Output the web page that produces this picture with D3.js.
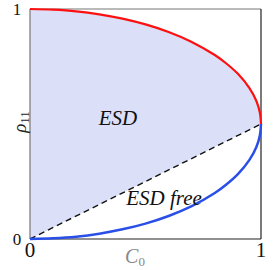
<!DOCTYPE html>
<html>
<head>
<meta charset="utf-8">
<style>
body { margin: 0; background: #fff; }
svg { display: block; }
</style>
<script src="https://d3js.org/d3.v7.min.js"></script>
</head>
<body>
<div id="chart"></div>
<script>
// values
var c0 = [0, 0.1, 0.2, 0.3, 0.4, 0.5, 0.6, 0.7, 0.8, 0.85, 0.9, 0.95, 0.98, 0.995, 1];
var upper = [1, 0.997, 0.99, 0.977, 0.958, 0.933, 0.9, 0.857, 0.8, 0.763, 0.718, 0.656, 0.6, 0.55, 0.5];
var lower = [0, 0.003, 0.01, 0.023, 0.042, 0.067, 0.1, 0.143, 0.2, 0.237, 0.282, 0.344, 0.4, 0.45, 0.5];
var diag = [[0, 0], [1, 0.5]];
var xTicks = [0, 1];
var yTicks = [0, 1];

var W = 273, H = 270;
var svg = d3.select('#chart').append('svg').attr('width', W).attr('height', H)
  .attr('font-family', '"Liberation Serif", "Times New Roman", "DejaVu Serif", serif');

var x = d3.scaleLinear().domain([0, 1]).range([30, 261]);
var y = d3.scaleLinear().domain([0, 1]).range([239, 9]);

var upperPts = c0.map((c, i) => [c, upper[i]]);
var lowerPts = c0.map((c, i) => [c, lower[i]]);

var line = d3.line().x(d => x(d[0])).y(d => y(d[1])).curve(d3.curveCatmullRom);

// shaded ESD region: left edge, red curve, back along the dashed line
svg.append('path').attr('d', line(upperPts) + 'L' + x(diag[0][0]) + ',' + y(diag[0][1]) + 'Z')
  .attr('fill', '#dcdff8').attr('stroke', 'none');

// frame
svg.append('line').attr('x1', x(0)).attr('x2', x(1)).attr('y1', y(1)).attr('y2', y(1)).attr('stroke', '#777').attr('stroke-width', 1.2);
svg.append('line').attr('x1', x(0)).attr('x2', x(0)).attr('y1', y(0)).attr('y2', y(1)).attr('stroke', '#777').attr('stroke-width', 1.2);
svg.append('line').attr('x1', x(0)).attr('x2', x(1)).attr('y1', y(0)).attr('y2', y(0)).attr('stroke', '#222').attr('stroke-width', 1.2);
svg.append('line').attr('x1', x(1)).attr('x2', x(1)).attr('y1', y(0)).attr('y2', y(1)).attr('stroke', '#222').attr('stroke-width', 1.2);

svg.append('path').attr('d', d3.line().x(d => x(d[0])).y(d => y(d[1]))(diag))
  .attr('fill', 'none').attr('stroke', '#111').attr('stroke-width', 1.4).attr('stroke-dasharray', '6,4');

svg.append('path').attr('d', line(upperPts)).attr('fill', 'none').attr('stroke', '#ff1010').attr('stroke-width', 2.2);
svg.append('path').attr('d', line(lowerPts)).attr('fill', 'none').attr('stroke', '#2a4fe8').attr('stroke-width', 2.5);

// ticks
svg.selectAll('.xt').data(xTicks).enter().append('text')
  .attr('x', d => x(d)).attr('y', 257).attr('text-anchor', 'middle')
  .attr('font-size', 21).attr('fill', '#111').text(d => d);
svg.selectAll('.yt').data(yTicks).enter().append('text')
  .attr('x', 17).attr('y', d => y(d) + 6).attr('text-anchor', 'middle')
  .attr('font-size', 17).attr('fill', '#111').text(d => d);

// axis titles
svg.append('text').attr('x', 135).attr('y', 263).attr('text-anchor', 'middle')
  .attr('font-size', 20).attr('font-style', 'italic').attr('fill', '#888')
  .html('C<tspan font-size="13" font-style="normal" dy="3">0</tspan>');
svg.append('text').attr('transform', 'translate(26,122) rotate(-90)').attr('text-anchor', 'middle')
  .attr('font-size', 19).attr('font-style', 'italic').attr('fill', '#222')
  .html('ρ<tspan font-size="13" font-style="normal" dy="3">11</tspan>');

svg.append('text').attr('x', 118).attr('y', 125).attr('text-anchor', 'middle')
  .attr('font-size', 21).attr('font-style', 'italic').attr('fill', '#111').text('ESD');
svg.append('text').attr('x', 164).attr('y', 205).attr('text-anchor', 'middle')
  .attr('font-size', 21).attr('font-style', 'italic').attr('fill', '#111').text('ESD free');
</script>
</body>
</html>
